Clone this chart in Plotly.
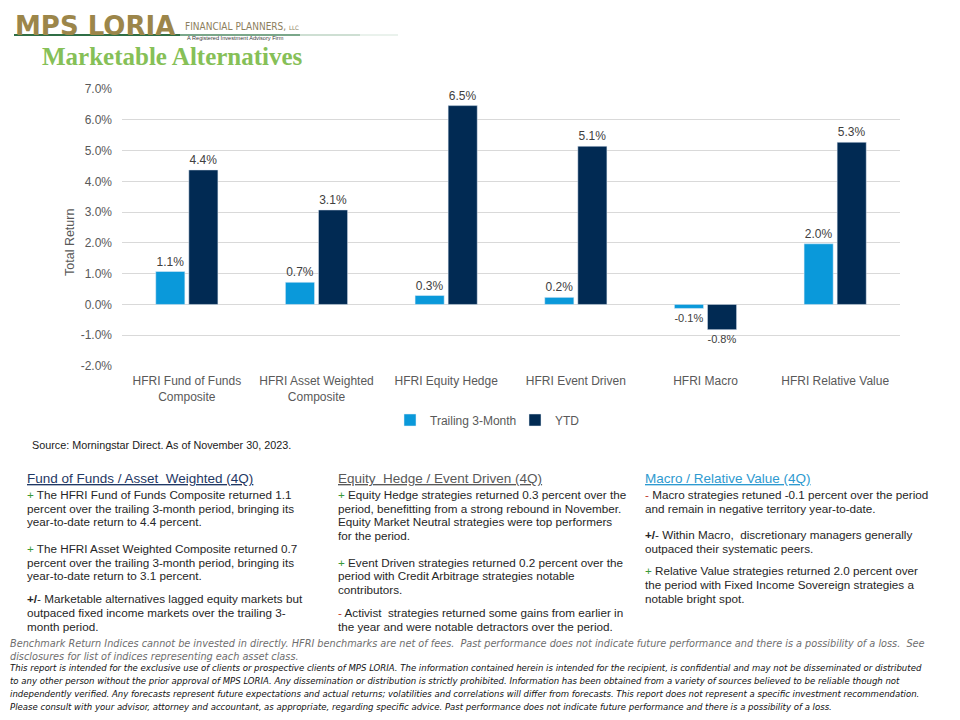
import plotly.graph_objects as go

W, H = 960, 720
OFF = 8  # page body margin

categories = ["HFRI Fund of Funds<br>Composite", "HFRI Asset Weighted<br>Composite",
              "HFRI Equity Hedge", "HFRI Event Driven", "HFRI Macro", "HFRI Relative Value"]
trailing_3m = [1.07, 0.72, 0.29, 0.23, -0.13, 1.97]
ytd = [4.37, 3.07, 6.46, 5.14, -0.82, 5.27]
y_ticks = [-2, -1, 0, 1, 2, 3, 4, 5, 6, 7]

C_TRAIL = "#0A99DA"
C_YTD = "#012A53"


def px(x):
    return (x - OFF) / W


def py(y):
    return 1 - (y - OFF) / H


fig = go.Figure()
fig.add_trace(go.Bar(
    name="Trailing 3-Month", x=categories, y=trailing_3m, marker_color=C_TRAIL,
    text=[f"{v:.1f}%" for v in trailing_3m], textposition="outside",
    textfont=dict(size=12, color="#404040", family="Liberation Sans"), cliponaxis=False))
fig.add_trace(go.Bar(
    name="YTD", x=categories, y=ytd, marker_color=C_YTD,
    text=[f"{v:.1f}%" for v in ytd], textposition="outside",
    textfont=dict(size=12, color="#404040", family="Liberation Sans"), cliponaxis=False))

fig.update_layout(
    width=W, height=H, margin=dict(l=0, r=0, t=0, b=0),
    paper_bgcolor="white", plot_bgcolor="white",
    barmode="group", bargap=0.49, bargroupgap=0.12,
    font=dict(family="Liberation Sans", color="#595959", size=12),
    showlegend=True,
    legend=dict(orientation="h", x=px(515), xanchor="center", y=py(420), yanchor="middle",
                font=dict(size=12, color="#595959"), itemwidth=30, traceorder="normal",
                entrywidth=80, entrywidthmode="pixels"),
    xaxis=dict(domain=[px(122), px(900)], showgrid=False, showline=False, ticks="",
               tickfont=dict(size=12, color="#595959"), automargin=False,
               ticklabelstandoff=6),
    yaxis=dict(domain=[py(366), py(89)], range=[-2, 7], tickvals=y_ticks,
               ticktext=[f"{v:.1f}%" for v in y_ticks], gridcolor="#D9D9D9", gridwidth=1,
               zeroline=True, zerolinecolor="#D9D9D9", zerolinewidth=1, showline=False,
               ticks="", tickfont=dict(size=12, color="#595959"), automargin=False,
               ticklabelstandoff=9),
)

ann = []


def text(x, y, s, size=11, color="#262626", family="Liberation Sans", xanchor="left", **kw):
    ann.append(dict(x=px(x), y=py(y), xref="paper", yref="paper", text=s, showarrow=False,
                    xanchor=xanchor, yanchor="middle", align="left",
                    font=dict(size=size, color=color, family=family), **kw))


# y axis title
text(70, 243, "Total Return", size=12.5, color="#595959", xanchor="center", textangle=-90)

# Header / logo
text(13, 26, "<b>MPS LORIA</b>", size=26, color="#9C864A", family="DejaVu Sans")
text(183, 26, "FINANCIAL PLANNERS, <span style='font-size:6px'>LLC</span>", size=10,
     color="#8C7E5C", family="Liberation Sans Narrow, DejaVu Sans Condensed")
text(185, 38.5, "A Registered Investment Advisory Firm", size=5.6, color="#3A3A3A")
text(40, 57, "<b>Marketable Alternatives</b>", size=25, color="#86C057", family="Liberation Serif")

# Source
text(30, 445, "Source: Morningstar Direct. As of November 30, 2023.", size=10.8, color="#1A1A1A")

G = "<span style='color:#3A9A3A'>+</span>"
R = "<span style='color:#C0392B'>-</span>"
PM = "<b>+/</b>-"

col_left = [
    (478, "<u>Fund of Funds / Asset  Weighted (4Q)</u>", "#1F3864", 13.5),
    (494, G + " The HFRI Fund of Funds Composite returned 1.1", None, None),
    (508, "percent over the trailing 3-month period, bringing its", None, None),
    (521, "year-to-date return to 4.4 percent.", None, None),
    (548, G + " The HFRI Asset Weighted Composite returned 0.7", None, None),
    (562, "percent over the trailing 3-month period, bringing its", None, None),
    (575, "year-to-date return to 3.1 percent.", None, None),
    (598, PM + " Marketable alternatives lagged equity markets but", None, None),
    (612, "outpaced fixed income markets over the trailing 3-", None, None),
    (626, "month period.", None, None),
]
col_mid = [
    (478, "<u>Equity  Hedge / Event Driven (4Q)</u>", "#595959", 13.5),
    (494, G + " Equity Hedge strategies returned 0.3 percent over the", None, None),
    (508, "period, benefitting from a strong rebound in November.", None, None),
    (521, "Equity Market Neutral strategies were top performers", None, None),
    (535, "for the period.", None, None),
    (562, G + " Event Driven strategies returned 0.2 percent over the", None, None),
    (575, "period with Credit Arbitrage strategies notable", None, None),
    (589, "contributors.", None, None),
    (612, R + " Activist  strategies returned some gains from earlier in", None, None),
    (626, "the year and were notable detractors over the period.", None, None),
]
col_right = [
    (478, "<u>Macro / Relative Value (4Q)</u>", "#2E9AD0", 13.5),
    (494, R + " Macro strategies retuned -0.1 percent over the period", None, None),
    (508, "and remain in negative territory year-to-date.", None, None),
    (534, PM + " Within Macro,  discretionary managers generally", None, None),
    (548, "outpaced their systematic peers.", None, None),
    (570, G + " Relative Value strategies returned 2.0 percent over", None, None),
    (584, "the period with Fixed Income Sovereign strategies a", None, None),
    (598, "notable bright spot.", None, None),
]
for x0, col in [(25, col_left), (336, col_mid), (643, col_right)]:
    for y, s, c, sz in col:
        text(x0, y, s, size=sz or 11.7, color=c or "#262626")

# Footer
NARROW = "Liberation Sans Narrow, DejaVu Sans Condensed, Liberation Sans"
gray_lines = [
    "Benchmark Return Indices cannot be invested in directly. HFRI benchmarks are net of fees.  Past performance does not indicate future performance and there is a possibility of a loss.  See",
    "disclosures for list of indices representing each asset class.",
]
for i, s in enumerate(gray_lines):
    text(8, 643 + 13 * i, "<i>" + s + "</i>", size=10.8, color="#6E6E6E", family=NARROW)

black_lines = [
    "This report is intended for the exclusive use of clients or prospective clients of MPS LORIA. The information contained herein is intended for the recipient, is confidential and may not be disseminated or distributed",
    "to any other person without the prior approval of MPS LORIA. Any dissemination or distribution is strictly prohibited. Information has been obtained from a variety of sources believed to be reliable though not",
    "independently verified. Any forecasts represent future expectations and actual returns; volatilities and correlations will differ from forecasts. This report does not represent a specific investment recommendation.",
    "Please consult with your advisor, attorney and accountant, as appropriate, regarding specific advice. Past performance does not indicate future performance and there is a possibility of a loss.",
]
for i, s in enumerate(black_lines):
    text(8, 667 + 13.3 * i, "<i>" + s + "</i>", size=9.5, color="#111111", family=NARROW)

fig.update_layout(annotations=ann)

# logo line (gradient approximated by segments)
segs = [(14, 180, "#2F6E45", 2), (180, 300, "#4E8A63", 1.5), (300, 360, "#9DBFA8", 1.2), (360, 398, "#D5E5DA", 1)]
for x0, x1, c, w in segs:
    fig.add_shape(type="line", xref="paper", yref="paper", x0=px(x0), x1=px(x1),
                  y0=py(35), y1=py(35), line=dict(color=c, width=w))

fig.write_html("out.html")
